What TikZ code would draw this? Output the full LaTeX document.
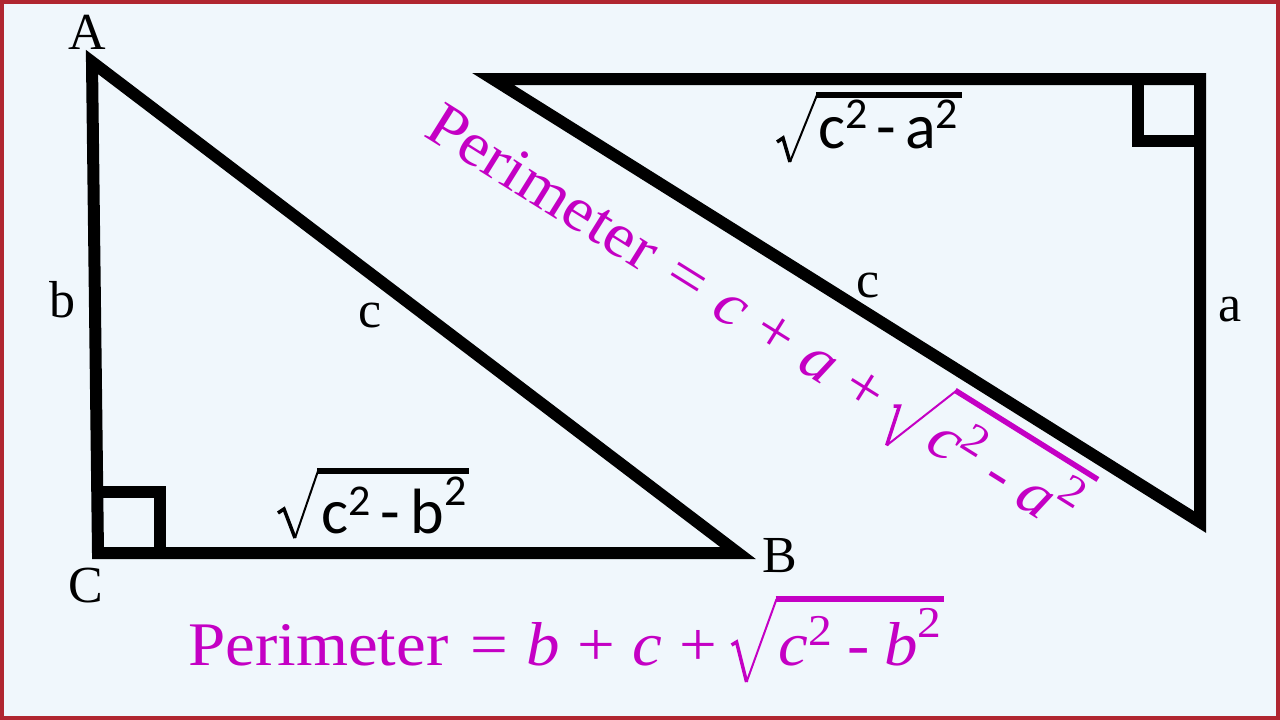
\documentclass[tikz,border=0pt]{standalone}
\usepackage{fontspec}
\setmainfont{Liberation Serif}
\newfontfamily\calib{Carlito}
\newfontfamily\perifont[FakeStretch=1.08]{Liberation Serif}
\usetikzlibrary{calc}

\definecolor{bgc}{RGB}{240,247,252}
\definecolor{framec}{RGB}{176,38,48}
\definecolor{mag}{RGB}{196,0,196}

\newcommand\suph[2]{\raisebox{#1}{\fontsize{44}{44}\selectfont #2}}

\tikzset{
  tri/.style={line width=12pt, line join=miter, miter limit=10},
  rsq/.style={line width=12pt, line join=miter},
  lbl/.style={inner sep=0pt, anchor=base, font=\fontsize{52}{52}\selectfont},
  rootlbl/.style={inner sep=0pt, anchor=base west, font=\calib\fontsize{64}{64}\selectfont},
  peri/.style={inner sep=0pt, anchor=base west, text=mag, font=\perifont\fontsize{62}{62}\selectfont},
  radthick/.style={line width=3.5pt},
  radthin/.style={line width=2pt},
  radbar/.style={line width=5.5pt},
}

\newcommand\periformula[4]{%
  \node[peri] (#1a) at (0,0) {Perimeter\hspace{0.35em}=\hspace{0.3em}\textit{#2}\hspace{0.28em}+\hspace{0.28em}\textit{#3}\hspace{0.28em}+};
  \coordinate (#1r) at ($(#1a.base east)+(14,0)$);
  \node[peri] (#1b) at ($(#1r)+(47,0)$) {\textit{c}\suph{20pt}{2}\hspace{0.24em}-\hspace{0.24em}\textit{#4}\suph{28pt}{2}};
  \draw[mag, radthick] ($(#1r)+(0,-20)$) -- ($(#1r)+(5,-23)$) -- ($(#1r)+(15,17)$);
  \draw[mag, radthin] ($(#1r)+(15,17)$) -- ($(#1r)+(45,-66)$);
  \draw[mag, radbar] ($(#1r)+(44,-66)$) -- ($(#1b.base east)+(2,-66)$);
}

\begin{document}
\begin{tikzpicture}[x=1pt,y=-1pt]
\useasboundingbox (0,0) rectangle (1280,720);
\fill[bgc] (0,0) rectangle (1280,720);
\draw[framec, line width=4pt] (2,2) rectangle (1278,718);

% triangle 1
\coordinate (A) at (92,62);
\coordinate (C) at (98,553);
\coordinate (B) at (738,553);
\draw[tri] (A) -- (C) -- (B) -- cycle;
\coordinate (C1) at (98,492);
\coordinate (C2) at (160,492);
\coordinate (C3) at (160,553);
\draw[rsq] (C1) -- (C2) -- (C3);

% triangle 2
\coordinate (P) at (493,79);
\coordinate (Q) at (1200,79);
\coordinate (R) at (1200,522);
\draw[tri] (P) -- (Q) -- (R) -- cycle;
\coordinate (Q1) at (1138,79);
\coordinate (Q2) at (1138,141);
\coordinate (Q3) at (1200,141);
\draw[rsq] (Q1) -- (Q2) -- (Q3);

% labels
\node[lbl] (lA) at (87,49) {A};
\node[lbl] (lB) at (780,572) {B};
\node[lbl] (lC) at (86,602) {C};
\node[lbl] (lb) at (62,317) {b};
\node[lbl] (lc1) at (370,327) {c};
\node[lbl] (lc2) at (868,297) {c};
\node[lbl] (la) at (1230,321) {a};

% sqrt(c^2 - b^2)
\node[rootlbl] (rb) at (321,533) {c\suph{18pt}{2}\hspace{0.16em}-\hspace{0.16em}b\suph{28pt}{2}};
\coordinate (rb0) at (278,513);
\coordinate (rb1) at (284,509);
\coordinate (rb2) at (295,538);
\coordinate (rb3) at (318,471);
\draw[radthick] (rb0) -- (rb1) -- (rb2);
\draw[radthin] (rb2) -- (rb3);
\draw[radbar] ($(rb3)+(-1,0)$) -- ($(rb.base east |- rb3)+(2,0)$);

% sqrt(c^2 - a^2)
\node[rootlbl] (ra) at (818,148) {c\suph{20pt}{2}\hspace{0.14em}-\hspace{0.14em}a\suph{20pt}{2}};
\coordinate (ra0) at (777,142);
\coordinate (ra1) at (783,138);
\coordinate (ra2) at (790,162);
\coordinate (ra3) at (817,95);
\draw[radthick] (ra0) -- (ra1) -- (ra2);
\draw[radthin] (ra2) -- (ra3);
\draw[radbar] ($(ra3)+(-1,0)$) -- ($(ra.base east |- ra3)+(4,0)$);

% perimeter formulas
\begin{scope}[transform canvas={shift={(188,665)}}]
  \periformula{pb}{b}{c}{b}
\end{scope}
\begin{scope}[transform canvas={shift={(422,135)},rotate=-32}]
  \periformula{pr}{c}{a}{a}
\end{scope}
\end{tikzpicture}
\end{document}
